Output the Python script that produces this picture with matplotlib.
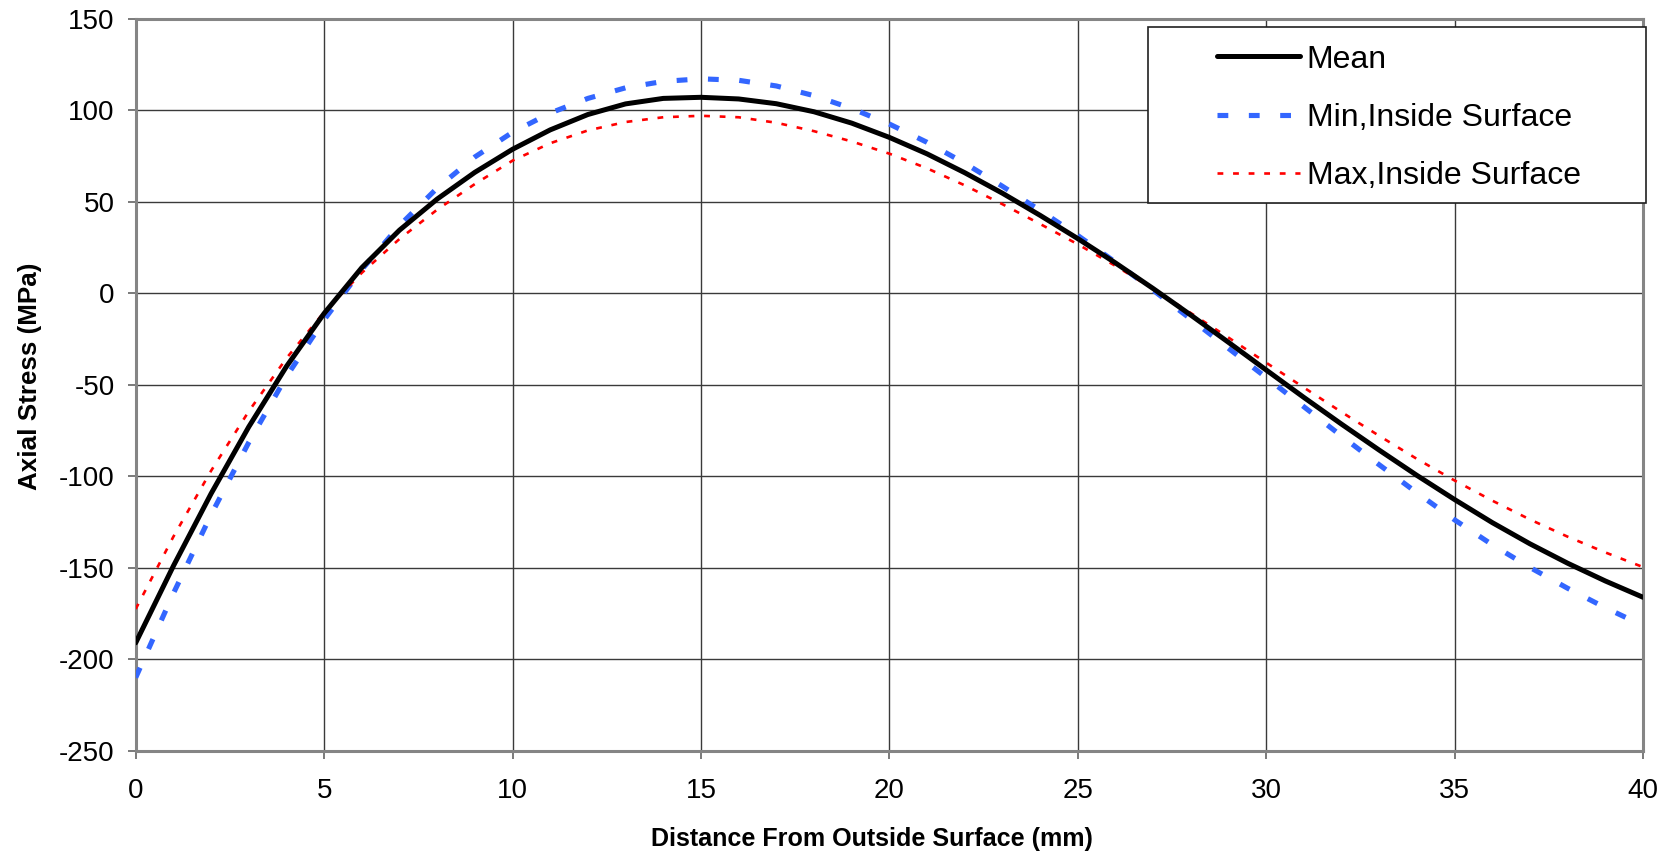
import matplotlib
matplotlib.use("Agg")
import matplotlib.pyplot as plt
from matplotlib.patches import Rectangle
import numpy as np

plt.rcParams['font.family'] = ['Liberation Sans', 'DejaVu Sans']
plt.rcParams['axes.unicode_minus'] = False

# Distance from outside surface (mm)
distance = list(range(0, 41))

# Axial stress (MPa)
mean_stress = [-191, -149, -109.5, -73, -40, -11, 14, 34.5, 51.5, 66.1, 78.7,
               89.3, 97.7, 103.5, 106.5, 107.1, 106.2, 103.6, 99.2, 93.0, 85.2,
               76.2, 65.9, 54.7, 42.6, 29.9, 16.6, 2.6, -11.9, -26.8, -41.9,
               -56.9, -71.5, -85.7, -99.5, -112.7, -125.3, -136.9, -147.5, -157.2, -166.1]

min_inside = [-210, -164, -121, -81.5, -45.5, -14.5, 13, 37, 57.5, 74.5, 88,
              98.5, 106.5, 112.3, 115.8, 117.2, 116.4, 113.3, 108.0, 101.0, 92.5,
              82.5, 71.1, 58.5, 45.3, 31.6, 17.0, 1.7, -14.1, -30.1, -46.0,
              -62.0, -78.0, -93.7, -109.0, -123.8, -137.4, -149.8, -161.2, -171.8, -181.6]

max_inside = [-172.5, -133, -97, -64.5, -35.5, -10.3, 11.2, 29.7, 45.7, 59.7, 72.5,
              82, 89, 93.6, 96.2, 97.0, 96.2, 93.2, 88.6, 83.0, 76.3,
              68.3, 59.0, 48.7, 37.9, 26.8, 15.0, 2.4, -10.8, -24.2, -37.9,
              -51.5, -64.9, -77.9, -90.5, -102.3, -113.3, -123.6, -133.0, -141.6, -149.6]

series_labels = ["Mean", "Min,Inside Surface", "Max,Inside Surface"]

W, H = 1675, 857
fig = plt.figure(figsize=(W / 100, H / 100), dpi=100)
ax = fig.add_axes([135.7 / W, 1 - 750.8 / H, (1643 - 135.7) / W, (750.8 - 18.8) / H])

ax.set_xlim(0, 40)
ax.set_ylim(-250, 150)
ax.set_xticks(np.arange(0, 41, 5))
ax.set_yticks(np.arange(-250, 151, 50))
ax.grid(True, color='#3a3a3a', linewidth=1.0)
ax.set_axisbelow(True)

for s in ax.spines.values():
    s.set_color('#858585')
    s.set_linewidth(2.2)

ax.tick_params(axis='both', which='major', labelsize=20, direction='out',
               length=6, width=1.3, color='#707070', labelcolor='black')
ax.tick_params(axis='y', pad=9)
ax.tick_params(axis='x', pad=13.5)

l_mean, = ax.plot(distance, mean_stress, color='black', linewidth=3.6,
                  solid_capstyle='round', solid_joinstyle='round', zorder=4)
l_min, = ax.plot(distance, min_inside, color='#3366FF', linewidth=3.7,
                 linestyle=(0, (2.1, 4.0)), dash_capstyle='butt',
                 dash_joinstyle='round', zorder=3)
l_max, = ax.plot(distance, max_inside, color='#FF0000', linewidth=1.9,
                 linestyle=(0, (2.2, 3.7)), dash_capstyle='butt',
                 dash_joinstyle='round', zorder=3)

ax.set_xlabel("Distance From Outside Surface (mm)", fontsize=18.1, fontweight='bold')
ax.xaxis.set_label_coords(0.4885, -0.1036)
ax.set_ylabel("Axial Stress (MPa)", fontsize=18.7, fontweight='bold')
ax.yaxis.set_label_coords(-0.062, 0.511)

# Legend box drawn as a figure-level rectangle
box = Rectangle((1148.3 / W, 1 - 203.3 / H), (1646.4 - 1148.3) / W, (203.3 - 26.7) / H,
                transform=fig.transFigure, facecolor='white', edgecolor='#202020',
                linewidth=1.2, zorder=5)
fig.add_artist(box)

leg = fig.legend([l_mean, l_min, l_max], series_labels,
                 loc='upper left', bbox_to_anchor=(1216.6 / W, 1 - 44.5 / H),
                 frameon=False, fontsize=23, borderpad=0, borderaxespad=0,
                 handlelength=2.6, handletextpad=0.22, labelspacing=0.89)
leg.set_zorder(6)

fig.savefig("out.png", dpi=100)
